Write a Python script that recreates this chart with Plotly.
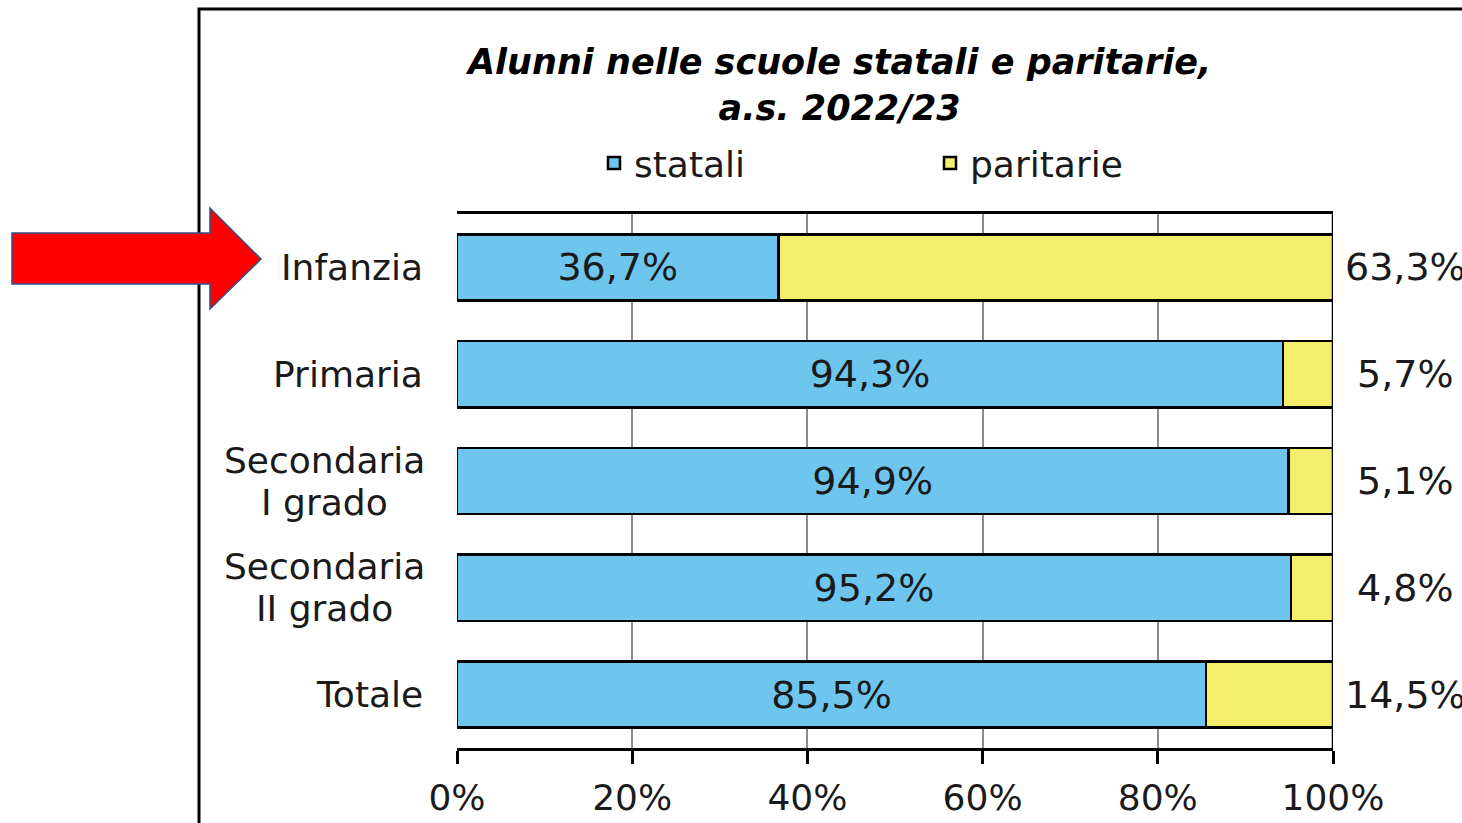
import plotly.graph_objects as go

categories = ["Infanzia", "Primaria", "Secondaria<br>I grado", "Secondaria<br>II grado", "Totale"]
statali = [36.7, 94.3, 94.9, 95.2, 85.5]
paritarie = [63.3, 5.7, 5.1, 4.8, 14.5]
x_ticks = [0, 20, 40, 60, 80, 100]
x_tick_labels = ["0%", "20%", "40%", "60%", "80%", "100%"]

BLUE = "#6EC6EE"
YELLOW = "#F4EE6A"
FONT = "DejaVu Sans"
TXT = "#1a1a1a"

W, H = 1462, 823

fig = go.Figure()
fig.add_trace(go.Bar(
    name="statali", y=categories, x=statali, orientation="h",
    marker=dict(color=BLUE, line=dict(color="black", width=2.5)),
    width=0.62,
    texttemplate="%{x:.1f}%", textposition="inside", insidetextanchor="middle",
    textfont=dict(family=FONT, size=38, color=TXT),
    hoverinfo="skip",
))
fig.add_trace(go.Bar(
    name="paritarie", y=categories, x=paritarie, orientation="h",
    marker=dict(color=YELLOW, line=dict(color="black", width=2.5)),
    width=0.62, hoverinfo="skip",
))


# paper coordinates (from picture pixels) for decorations
def px(xpix):
    return (xpix - 457) / 876


def py(ypix):
    return (748 - ypix) / 534


annotations = []
for cat, s, p in zip(categories, statali, paritarie):
    annotations.append(dict(
        x=s + p, y=cat, xref="x", yref="y", text=f"{p:.1f}%".replace(".", ","),
        showarrow=False, xanchor="center", yanchor="middle", xshift=72,
        font=dict(family=FONT, size=38, color=TXT),
    ))
    lines = cat.split("<br>")
    if len(lines) == 1:
        annotations.append(dict(
            x=0, y=cat, xref="x", yref="y", text=cat,
            showarrow=False, xanchor="right", yanchor="middle", xshift=-32,
            font=dict(family=FONT, size=36, color=TXT),
        ))
    else:
        for i, ln in enumerate(lines):
            annotations.append(dict(
                x=0, y=cat, xref="x", yref="y", text=ln,
                showarrow=False, xanchor="center", yanchor="middle", xshift=-133,
                yshift=21 - 42 * i,
                font=dict(family=FONT, size=36, color=TXT),
            ))

annotations.append(dict(
    x=px(838), y=py(40), xref="paper", yref="paper", xanchor="center", yanchor="top",
    text="<b><i>Alunni nelle scuole statali e paritarie,<br>a.s. 2022/23</i></b>",
    showarrow=False, align="center",
    font=dict(family=FONT, size=35, color="black"),
))

arrow_pts = [(12, 233), (210, 233), (210, 208), (261, 259), (210, 309), (210, 284), (12, 284)]
path = "M " + " L ".join(f"{px(a):.4f},{py(b):.4f}" for a, b in arrow_pts) + " Z"

shapes = [
    dict(type="rect", xref="paper", yref="paper", x0=px(199), y0=-1, x1=2, y1=py(9),
         line=dict(color="black", width=3), fillcolor="rgba(0,0,0,0)", layer="above"),
    dict(type="line", xref="x", yref="paper", x0=100, x1=100, y0=0, y1=1,
         line=dict(color="black", width=2.5), layer="above"),
    dict(type="path", xref="paper", yref="paper", path=path,
         fillcolor="#FF0000", line=dict(color="#2F528F", width=1.5), layer="above"),
]

fig.update_layout(
    width=W, height=H,
    margin=dict(l=457, r=W - 1333, t=214, b=H - 748, autoexpand=False),
    paper_bgcolor="white", plot_bgcolor="white",
    barmode="stack", separators=",.",
    showlegend=True,
    legend=dict(orientation="h", traceorder="normal",
                x=px(594), xanchor="left", y=py(163), yanchor="middle",
                font=dict(family=FONT, size=36, color=TXT),
                entrywidth=291, entrywidthmode="pixels", bgcolor="rgba(0,0,0,0)"),
    xaxis=dict(range=[0, 100], tickvals=x_ticks, ticktext=x_tick_labels,
               showgrid=True, gridcolor="#8c8c8c", gridwidth=2, zeroline=False,
               showline=True, mirror=True, linecolor="black", linewidth=2.5,
               ticks="outside", ticklen=13, tickwidth=2.5, tickcolor="black",
               ticklabelstandoff=3, automargin=False,
               tickfont=dict(family=FONT, size=36, color=TXT)),
    yaxis=dict(categoryorder="array", categoryarray=categories, autorange="reversed",
               showgrid=False, showticklabels=False, zeroline=False, showline=False,
               automargin=False),
    annotations=annotations,
    shapes=shapes,
)

# pin the figure to the window's top-left corner so the page is exactly the window size
fig.write_html(
    "out.html",
    config={"displayModeBar": False},
    post_script=(
        "document.body.style.margin='0';"
        "document.body.style.overflow='hidden';"
        "var d=document.getElementById('{plot_id}');"
        "d.style.position='fixed';d.style.left='0px';d.style.top='0px';"
    ),
)
